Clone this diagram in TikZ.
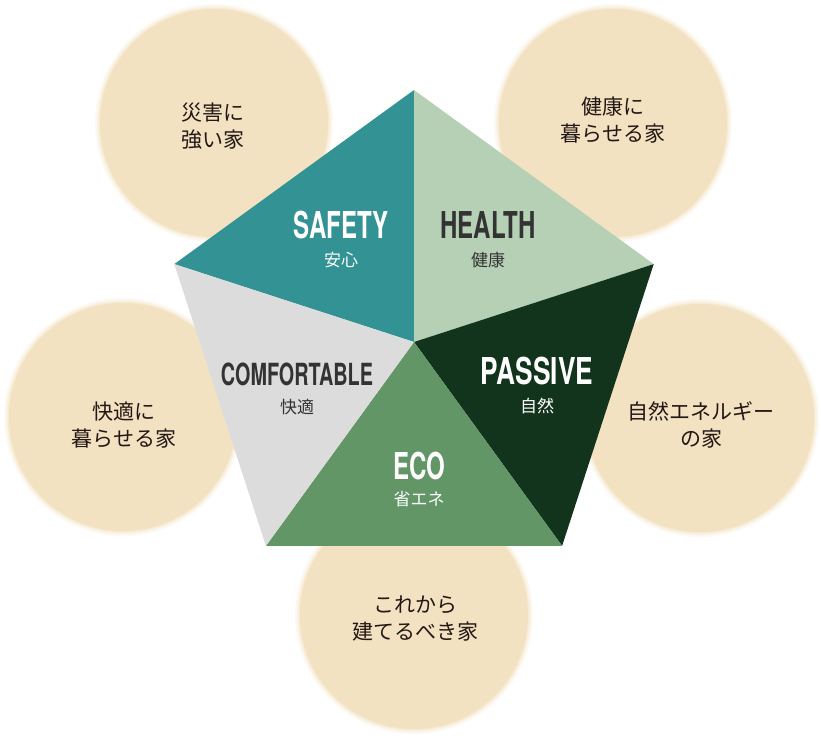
\documentclass[tikz,border=0pt]{standalone}
\usepackage{fontspec}
\setmainfont{TeX Gyre Heros}
\newfontfamily\jp{Noto Sans CJK JP}
\usetikzlibrary{positioning}
\definecolor{beige}{HTML}{F2E2C2}
\definecolor{safetyc}{HTML}{339293}
\definecolor{healthc}{HTML}{B5D0B5}
\definecolor{passivec}{HTML}{12331C}
\definecolor{ecoc}{HTML}{629666}
\definecolor{comfc}{HTML}{DCDCDC}
\definecolor{ink}{HTML}{231815}
\definecolor{greytext}{HTML}{333333}
\newcommand{\narrow}[2][0.65]{\scalebox{#1}[1]{#2}}
\begin{document}
\begin{tikzpicture}[x=1pt, y=-1pt, node distance=35pt,
  bubble/.style={circle, fill=beige, minimum size=228pt, inner sep=0pt,
    preaction={draw=beige, draw opacity=0.2, line width=10pt},
    preaction={draw=beige, draw opacity=0.35, line width=6pt},
    preaction={draw=beige, draw opacity=0.5, line width=2.5pt}},
  bubbletext/.style={align=center, text=ink, font=\jp\fontsize{21}{27}\selectfont},
  title/.style={font=\bfseries\fontsize{37}{37}\selectfont},
  sub/.style={font=\jp\fontsize{17}{17}\selectfont}]
  \useasboundingbox (0,0) rectangle (821,739);

  % circles behind the pentagon
  \node[bubble] (b1) at (214,123) {};
  \node[bubble] (b2) at (613,123) {};
  \node[bubble] (b3) at (123,417) {};
  \node[bubble] (b4) at (700,418) {};
  \node[bubble] (b5) at (414,615) {};
  \node[bubbletext] (t1) at (213,126) {災害に\\強い家};
  \node[bubbletext] (t2) at (613,120) {健康に\\暮らせる家};
  \node[bubbletext] (t3) at (124,425) {快適に\\暮らせる家};
  \node[bubbletext] (t4) at (701,425) {自然エネルギー\\の家};
  \node[bubbletext] (t5) at (415,619) {これから\\建てるべき家};

  % pentagon
  \coordinate (o) at (414,342);
  \coordinate (top) at (414,90);
  \coordinate (right) at (653.7,264.1);
  \coordinate (bright) at (562.1,545.9);
  \coordinate (bleft) at (265.9,545.9);
  \coordinate (left) at (174.3,264.1);
  \fill[safetyc] (o) -- (left) -- (top) -- cycle;
  \fill[healthc] (o) -- (top) -- (right) -- cycle;
  \fill[passivec] (o) -- (right) -- (bright) -- cycle;
  \fill[ecoc] (o) -- (bright) -- (bleft) -- cycle;
  \fill[comfc] (o) -- (bleft) -- (left) -- cycle;

  \node[title, white] (safety) at (341,225) {\narrow{SAFETY}};
  \node[sub, white] (safetyj) [below of=safety] {安心};
  \node[title, greytext] (health) at (488,225) {\narrow{HEALTH}};
  \node[sub, greytext] (healthj) [below of=health] {健康};
  \node[title, white] (passive) at (537,371) {\narrow[0.71]{PASSIVE}};
  \node[sub, white] (passivej) [below of=passive] {自然};
  \node[title, white] (eco) at (419,466) {\narrow{ECO}};
  \node[sub, white] (ecoj) [below of=eco, node distance=33pt] {省エネ};
  \node[title, greytext, font=\bfseries\fontsize{30.5}{30.5}\selectfont] (comf) at (297,374) {\narrow{COMFORTABLE}};
  \node[sub, greytext] (comfj) [below of=comf, node distance=33pt] {快適};
\end{tikzpicture}
\end{document}
